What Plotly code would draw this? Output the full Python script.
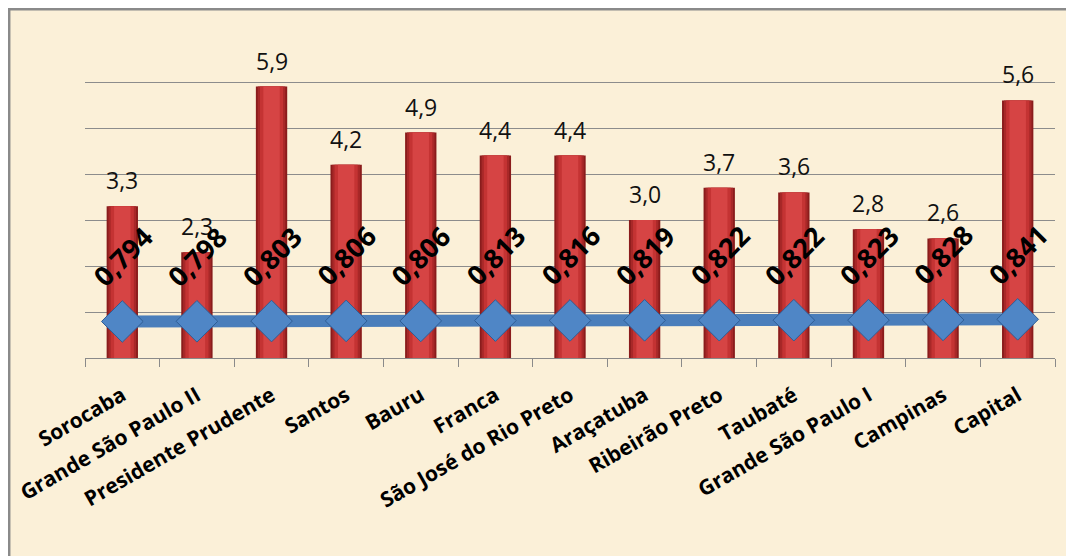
import plotly.graph_objects as go

categories = ["Sorocaba", "Grande São Paulo II", "Presidente Prudente", "Santos", "Bauru",
              "Franca", "São José do Rio Preto", "Araçatuba", "Ribeirão Preto", "Taubaté",
              "Grande São Paulo I", "Campinas", "Capital"]
bar_values = [3.3, 2.3, 5.9, 4.2, 4.9, 4.4, 4.4, 3.0, 3.7, 3.6, 2.8, 2.6, 5.6]
line_values = [0.794, 0.798, 0.803, 0.806, 0.806, 0.813, 0.816, 0.819, 0.822, 0.822, 0.823, 0.828, 0.841]

def br(v, d):
    return f"{v:.{d}f}".replace(".", ",")

fig = go.Figure()

# cylinder-like red bars: layered widths for a shaded look
for w, c in [(0.42, "#8a1c1c"), (0.37, "#a82828"), (0.31, "#c43333"), (0.22, "#d64444")]:
    fig.add_trace(go.Bar(x=categories, y=bar_values, width=w, marker=dict(color=c, line=dict(width=0)),
                         hoverinfo="skip", showlegend=False))

fig.add_trace(go.Scatter(
    x=categories, y=line_values, mode="lines+markers",
    line=dict(color="#4a7ebb", width=12),
    marker=dict(symbol="diamond", size=32, color="#4f86c6", line=dict(color="#2f5d94", width=1)),
    showlegend=False))

annotations = []
for c, v in zip(categories, bar_values):
    annotations.append(dict(x=c, y=v, text=br(v, 1), showarrow=False, yanchor="bottom", yshift=8,
                            font=dict(family="Open Sans", size=23, color="#111")))
for c, v in zip(categories, line_values):
    annotations.append(dict(x=c, y=v, text=br(v, 3), showarrow=False, textangle=-45, yshift=65,
                            font=dict(family="Open Sans", size=27, color="#000", weight="bold")))

fig.update_layout(
    width=1074, height=556,
    margin=dict(l=77, r=27, t=28, b=206, autoexpand=False),
    paper_bgcolor="white", plot_bgcolor="rgba(0,0,0,0)",
    barmode="overlay",
    annotations=annotations,
    shapes=[dict(type="rect", xref="paper", yref="paper", x0=-0.0784, x1=1.2, y0=-0.8, y1=1.084,
                 fillcolor="#fbf0d8", line=dict(color="#8a8a8a", width=3), layer="below")],
    xaxis=dict(type="category", range=[-0.5, 12.5], showline=True, linecolor="#8a8a8a", linewidth=1.3,
               ticks="outside", tickson="boundaries", ticklen=8, tickcolor="#8a8a8a",
               tickangle=-30, showgrid=False, automargin=False, ticklabelstandoff=16,
               tickfont=dict(family="Open Sans", size=21, color="#000", weight="bold")),
    yaxis=dict(range=[0, 7], dtick=1, showticklabels=False, showgrid=True, gridcolor="#8c8c8c",
               gridwidth=1.3, zeroline=False, showline=False, automargin=False),
)

fig.write_html("out.html")
